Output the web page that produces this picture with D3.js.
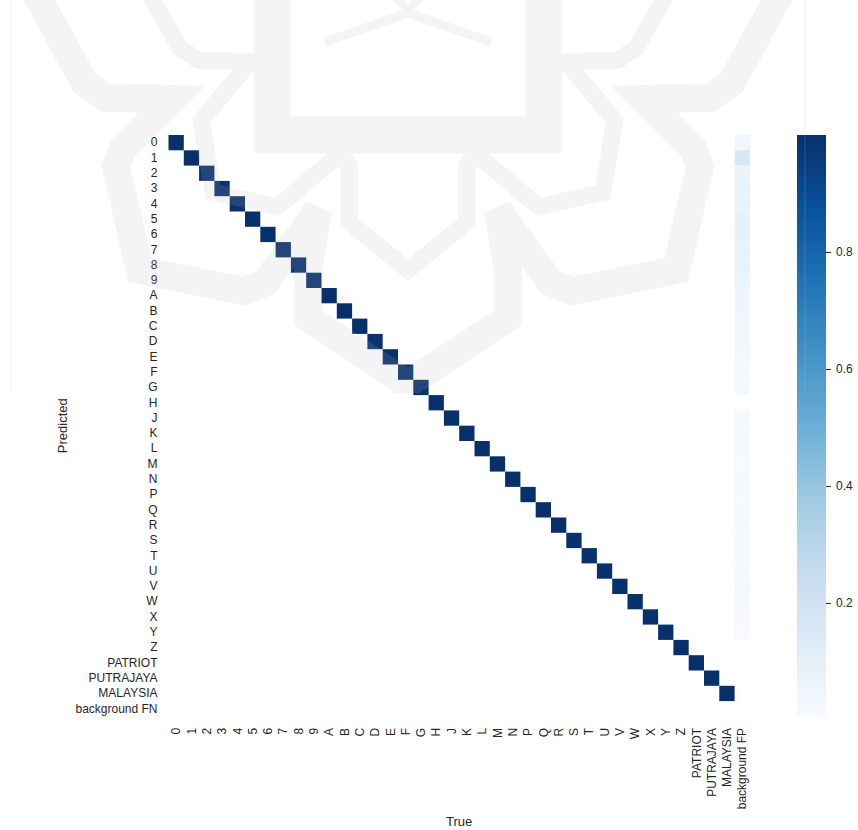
<!DOCTYPE html>
<html>
<head>
<meta charset="utf-8">
<script src="https://cdn.jsdelivr.net/npm/d3@7"></script>
<style>
  html, body { margin: 0; padding: 0; background: #ffffff; }
  svg { display: block; font-family: "Liberation Sans", Arial, sans-serif; }
</style>
</head>
<body>
<svg id="chart" width="858" height="830"></svg>
<script>
// Row (predicted) and column (true) class names
const predictedLabels = ["0","1","2","3","4","5","6","7","8","9",
  "A","B","C","D","E","F","G","H","J","K","L","M","N","P","Q","R","S","T","U","V","W","X","Y","Z",
  "PATRIOT","PUTRAJAYA","MALAYSIA","background FN"];
const trueLabels = ["0","1","2","3","4","5","6","7","8","9",
  "A","B","C","D","E","F","G","H","J","K","L","M","N","P","Q","R","S","T","U","V","W","X","Y","Z",
  "PATRIOT","PUTRAJAYA","MALAYSIA","background FP"];

// Normalised correct-prediction rate for each class (diagonal)
const diagonalValues = [1.00, 1.00, 0.99, 0.99, 1.00, 1.00, 1.00, 0.99, 0.99, 1.00,
  1.00, 1.00, 1.00, 0.99, 1.00, 1.00, 1.00, 1.00, 1.00, 1.00, 1.00, 1.00, 1.00, 1.00,
  1.00, 1.00, 1.00, 1.00, 1.00, 1.00, 1.00, 1.00, 1.00, 1.00, 1.00, 1.00, 1.00];

// Share of background false positives assigned to each predicted class (null = empty)
const backgroundFpValues = [0.045, 0.16, 0.07, 0.07, 0.07, 0.08, 0.08, 0.075, 0.075, 0.06,
  0.05, 0.05, 0.035, 0.035, 0.03, 0.025, 0.025, null, 0.02, 0.02, 0.02, 0.015, 0.02,
  0.015, 0.015, 0.02, 0.015, 0.015, 0.02, 0.03, 0.02, 0.012, 0.006,
  null, null, null, null, null];

// Colour bar tick values
const colorbarTicks = [0.2, 0.4, 0.6, 0.8];

// "Blues" colour map anchors
const bluesStops = ["#f7fbff","#deebf7","#c6dbef","#9ecae1","#6baed6","#4292c6","#2171b5","#08519c","#08306b"];

const svg = d3.select("#chart");
const textColor = "#262626";

const gridLeft = 168.5, gridTop = 135, cell = 15.3;
const gridW = cell * trueLabels.length, gridH = cell * predictedLabels.length;

const x = d3.scaleBand().domain(trueLabels).range([gridLeft, gridLeft + gridW]).padding(0);
const y = d3.scaleBand().domain(predictedLabels).range([gridTop, gridTop + gridH]).padding(0);

// Assemble non-empty cells
const cells = [];
diagonalValues.forEach((v, i) => cells.push({ r: predictedLabels[i], c: trueLabels[i], v }));
backgroundFpValues.forEach((v, i) => {
  if (v !== null) cells.push({ r: predictedLabels[i], c: trueLabels[trueLabels.length - 1], v });
});

const extent = d3.extent(cells, d => d.v);
const cmap = d3.scaleLinear()
  .domain(d3.range(bluesStops.length).map(i => i / (bluesStops.length - 1)))
  .range(bluesStops)
  .interpolate(d3.interpolateRgb);
const norm = d3.scaleLinear().domain(extent).range([0, 1]).clamp(true);
const color = v => cmap(norm(v));

// Heatmap cells
svg.append("g")
  .selectAll("rect")
  .data(cells)
  .join("rect")
  .attr("x", d => x(d.c))
  .attr("y", d => y(d.r))
  .attr("width", x.bandwidth())
  .attr("height", y.bandwidth())
  .attr("fill", d => color(d.v));

const fontFamily = '"Liberation Sans", Arial, sans-serif';

// Y axis (predicted)
const yAxis = svg.append("g")
  .attr("transform", `translate(${gridLeft},0)`)
  .call(d3.axisLeft(y).tickSize(0).tickPadding(11));
yAxis.select(".domain").remove();
yAxis.selectAll("text")
  .attr("fill", textColor)
  .style("font-size", "12px")
  .style("font-family", fontFamily);

// X axis (true), labels rotated
const xAxis = svg.append("g")
  .attr("transform", `translate(0,${gridTop + gridH})`)
  .call(d3.axisBottom(x).tickSize(0));
xAxis.select(".domain").remove();
xAxis.selectAll("text")
  .attr("fill", textColor)
  .attr("transform", "rotate(-90)")
  .attr("x", -11.5)
  .attr("y", 0)
  .attr("dy", "0.35em")
  .style("text-anchor", "end")
  .style("font-size", "12px")
  .style("font-family", fontFamily);

// Axis titles
svg.append("text")
  .attr("transform", `translate(67,${gridTop + gridH / 2}) rotate(-90)`)
  .attr("text-anchor", "middle")
  .attr("fill", textColor)
  .style("font-size", "13px")
  .text("Predicted");
svg.append("text")
  .attr("x", gridLeft + gridW / 2)
  .attr("y", 826)
  .attr("text-anchor", "middle")
  .attr("fill", textColor)
  .style("font-size", "13px")
  .text("True");

// Colour bar
const cbX = 797, cbW = 29;
const cbScale = d3.scaleLinear().domain(extent).range([gridTop + gridH, gridTop]);
const defs = svg.append("defs");
const grad = defs.append("linearGradient")
  .attr("id", "blues-bar")
  .attr("x1", 0).attr("y1", 1).attr("x2", 0).attr("y2", 0);
grad.selectAll("stop")
  .data(bluesStops)
  .join("stop")
  .attr("offset", (d, i) => i / (bluesStops.length - 1))
  .attr("stop-color", d => d);
svg.append("rect")
  .attr("x", cbX).attr("y", gridTop)
  .attr("width", cbW).attr("height", gridH)
  .attr("fill", "url(#blues-bar)");
const cbAxis = svg.append("g")
  .attr("transform", `translate(${cbX + cbW},0)`)
  .call(d3.axisRight(cbScale).tickValues(colorbarTicks).tickSize(5).tickPadding(5)
    .tickFormat(d3.format(".1f")));
cbAxis.select(".domain").remove();
cbAxis.selectAll("line").attr("stroke", textColor).attr("stroke-width", 1);
cbAxis.selectAll("text")
  .attr("fill", textColor)
  .style("font-size", "12px")
  .style("font-family", fontFamily);

// Faint emblem watermark laid over the whole upper part of the figure
function drawEmblem() {
  const mid = 408;
  const mirror = pts => pts.slice().reverse().map(([px, py]) => [2 * mid - px, py]);
  const outerArm = [[35,-8],[84,82],[106,98],[172,99],[123,148],[116,167],[140,270],
    [243,291],[266,282],[318,210],[308,270],[308,318]];
  const innerArm = [[148,-8],[180,48],[198,60],[250,62],[201,121],[213,192],[277,207],
    [340,154],[349,165],[349,222]];
  const strokes = [
    { w: 28, pts: outerArm.concat([[mid,384]], mirror(outerArm)) },
    { w: 17, pts: innerArm.concat([[mid,270]], mirror(innerArm)) },
    { w: 37, pts: [[272.5,-20],[272.5,135],[543.5,135],[543.5,-20]] },
    { w: 9, pts: [[325,42],[mid,13],[491,42]] },
    { w: 8, pts: [[392,-6],[mid,10],[424,-6]] },
    { w: 1.5, pts: [[10.5,0],[10.5,393]] },
    { w: 1.5, pts: [[805,0],[805,393]] }
  ];
  defs.append("clipPath").attr("id", "emblem-clip")
    .append("rect").attr("x", 10).attr("y", 0).attr("width", 796).attr("height", 393);
  const g = svg.append("g")
    .attr("clip-path", "url(#emblem-clip)")
    .attr("opacity", 0.15);
  const line = d3.line();
  g.selectAll("path")
    .data(strokes)
    .join("path")
    .attr("d", d => line(d.pts))
    .attr("fill", "none")
    .attr("stroke", "rgb(188,188,188)")
    .attr("stroke-width", d => d.w)
    .attr("stroke-linejoin", "miter")
    .attr("stroke-miterlimit", 4);
}
drawEmblem();
</script>
</body>
</html>
